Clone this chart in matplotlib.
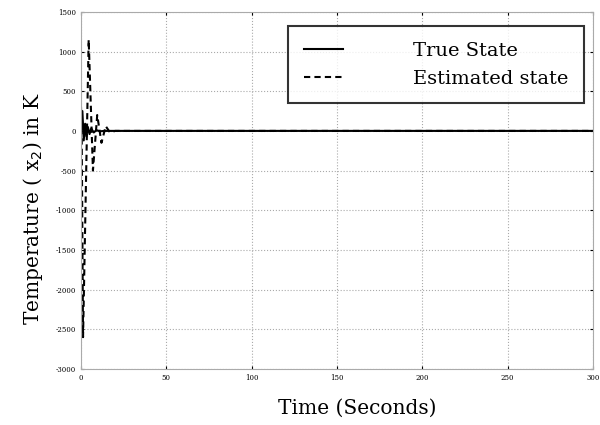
import matplotlib
matplotlib.use("Agg")
import matplotlib.pyplot as plt

# true state x2 (approximate)
t_true = [0, 0.8, 1.6, 2.4, 3.2, 4.0, 5.0, 6.0, 7.5, 9.0, 11.0, 14.0, 300]
x_true = [0, 250, -120, 90, -70, 50, -40, 30, -20, 10, -5, 0, 0]

# estimated state x2
t_est = [0, 0.4, 1.2, 4.5, 7.0, 9.5, 12.0, 14.5, 17.0, 20.0, 300]
x_est = [300, 0, -2600, 1150, -500, 200, -150, 60, -20, 0, 0]

xticks = [0, 50, 100, 150, 200, 250, 300]
yticks = [-3000, -2500, -2000, -1500, -1000, -500, 0, 500, 1000, 1500]

plt.rcParams["font.family"] = ["DejaVu Serif"]
plt.rcParams["axes.unicode_minus"] = False

fig = plt.figure(figsize=(6, 4.25), dpi=100)
ax = fig.add_axes([0.135, 0.132, 0.853, 0.840])

ax.plot(t_true, x_true, color="black", linewidth=1.5, label="True State")
ax.plot(t_est, x_est, color="black", linewidth=1.5, linestyle=(0, (3, 2)),
        label="Estimated state")

ax.set_xlim(0, 300)
ax.set_ylim(-3000, 1500)
ax.set_xticks(xticks)
ax.set_yticks(yticks)
ax.tick_params(labelsize=5, length=2, direction="in", top=True, right=True)
ax.grid(True, linestyle=":", color="#aaaaaa", linewidth=0.8)
for s in ax.spines.values():
    s.set_color("#aaaaaa")
    s.set_linewidth(0.8)

ax.set_xlabel("Time (Seconds)", fontsize=14.5, labelpad=12, x=0.54)
ax.set_ylabel("Temperature ( x$_2$) in K", fontsize=14.5, labelpad=8, y=0.45)

leg = ax.legend(loc="upper right", bbox_to_anchor=(0.99, 0.97), fontsize=14,
                frameon=True, fancybox=False, handlelength=2.0,
                handletextpad=3.6, borderpad=0.8, labelspacing=0.5,
                borderaxespad=0.2)
leg.get_frame().set_edgecolor("black")
leg.get_frame().set_linewidth(1.5)

fig.savefig("out.png", dpi=100)
